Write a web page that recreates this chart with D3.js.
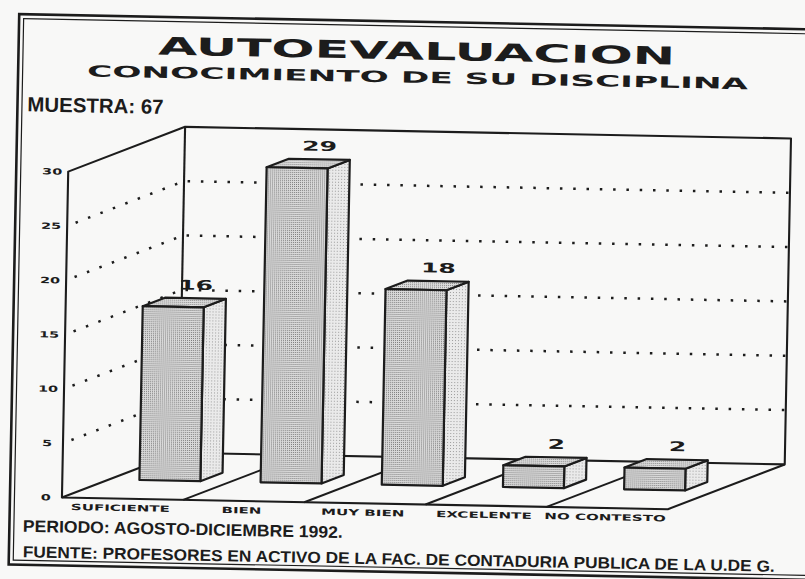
<!DOCTYPE html>
<html>
<head>
<meta charset="utf-8">
<script src="https://cdn.jsdelivr.net/npm/d3@7"></script>
<style>
  html, body { margin: 0; padding: 0; background: #f8f8f7; }
  svg { display: block; }
</style>
</head>
<body>
<svg id="chart" width="805" height="579"></svg>
<script>
// ---- data ----
const categories = ["SUFICIENTE", "BIEN", "MUY BIEN", "EXCELENTE", "NO CONTESTO"];
const values = [16, 29, 18, 2, 2];
const yTicks = [0, 5, 10, 15, 20, 25, 30];
const gridValues = [5, 10, 15, 20, 25];
const titleText = "AUTOEVALUACION";
const subtitleText = "CONOCIMIENTO DE SU DISCIPLINA";
const sampleText = "MUESTRA: 67";
const periodText = "PERIODO: AGOSTO-DICIEMBRE 1992.";
const sourceText = "FUENTE: PROFESORES EN ACTIVO DE LA FAC. DE CONTADURIA PUBLICA DE LA U.DE G.";

// ---- setup ----
const INK = "#1c1c1c";
const WIDE = "'DejaVu Sans', sans-serif";
const PLAIN = "'Liberation Sans', Arial, sans-serif";
const svg = d3.select("#chart");
const defs = svg.append("defs");

// halftone-like fills for the bar faces
function stipple(id, bg, dot, size) {
  const p = defs.append("pattern").attr("id", id)
    .attr("patternUnits", "userSpaceOnUse").attr("width", size).attr("height", size);
  p.append("rect").attr("width", size).attr("height", size).attr("fill", bg);
  p.append("rect").attr("width", 1).attr("height", 1).attr("fill", dot);
}
stipple("dotFront", "#dadada", "#7c7c7c", 2);
stipple("dotTop", "#dedede", "#848484", 2);
stipple("dotSide", "#eaeaea", "#9c9c9c", 3);

// the printed sheet sits a little askew
const page = svg.append("g").attr("transform", "rotate(1.1 400 290)");

// double frame
page.append("rect").attr("x", 14).attr("y", 21.5).attr("width", 820).attr("height", 550.5)
  .attr("fill", "none").attr("stroke", INK).attr("stroke-width", 2.6);
page.append("rect").attr("x", 18.5).attr("y", 26).attr("width", 810).attr("height", 541.5)
  .attr("fill", "none").attr("stroke", INK).attr("stroke-width", 1.2);

// ---- titles ----
page.append("text").attr("x", 153.5).attr("y", 59.3)
  .attr("font-family", WIDE).attr("font-weight", "bold").attr("font-size", 24.5)
  .attr("fill", INK).attr("textLength", 517).attr("lengthAdjust", "spacingAndGlyphs")
  .text(titleText);
page.append("text").attr("x", 83).attr("y", 82.5)
  .attr("font-family", WIDE).attr("font-weight", "bold").attr("font-size", 15.6)
  .attr("fill", INK).attr("textLength", 661).attr("lengthAdjust", "spacingAndGlyphs")
  .text(subtitleText);
page.append("text").attr("x", 24).attr("y", 118.5)
  .attr("font-family", PLAIN).attr("font-weight", "bold").attr("font-size", 20.5)
  .attr("fill", INK).attr("textLength", 136).attr("lengthAdjust", "spacingAndGlyphs")
  .text(sampleText);
page.append("text").attr("x", 27.5).attr("y", 539)
  .attr("font-family", PLAIN).attr("font-weight", "bold").attr("font-size", 16.8)
  .attr("fill", INK).attr("textLength", 320).attr("lengthAdjust", "spacingAndGlyphs")
  .text(periodText);
page.append("text").attr("x", 28).attr("y", 564.5)
  .attr("font-family", PLAIN).attr("font-weight", "bold").attr("font-size", 16)
  .attr("fill", INK).attr("textLength", 752).attr("lengthAdjust", "spacingAndGlyphs")
  .text(sourceText);

// ---- 3D chart geometry ----
const X0 = 66, X1 = 672, FLOOR = 504, TOP = 178;
const DEPTH_X = 116, DEPTH_Y = -47;
const BAR_T0 = 0.405, BAR_T1 = 0.595;

const x = d3.scaleBand().domain(categories).range([X0, X1])
  .paddingInner(0.497).paddingOuter(0.2485);
const y = d3.scaleLinear().domain([0, 30]).range([FLOOR, TOP]);
const zx = d3.scaleLinear().domain([0, 1]).range([0, DEPTH_X]);
const zy = d3.scaleLinear().domain([0, 1]).range([0, DEPTH_Y]);
const P = (px, v, t) => [px + zx(t), y(v) + zy(t)];
const line = d3.line();
const yMax = y.domain()[1];

const chart = page.append("g");

// dotted grid on the side and back walls
chart.append("g").selectAll("path").data(gridValues).join("path")
  .attr("d", v => line([P(X0, v, 0), P(X0, v, 1), P(X1, v, 1)]))
  .attr("fill", "none").attr("stroke", INK).attr("stroke-width", 2.5)
  .attr("stroke-dasharray", "2.5 10.8").attr("stroke-dashoffset", -9);

// floor dividers between categories
const step = x.step();
chart.append("g").selectAll("path").data(d3.range(1, categories.length)).join("path")
  .attr("d", i => line([P(X0 + i * step, 0, 0), P(X0 + i * step, 0, 1)]))
  .attr("fill", "none").attr("stroke", INK).attr("stroke-width", 2);

// wall and floor outlines
const walls = chart.append("g").attr("fill", "none").attr("stroke", INK)
  .attr("stroke-width", 2.1).attr("stroke-linejoin", "round");
walls.append("path").attr("d", line([
  P(X0, 0, 0), P(X0, yMax, 0), P(X0, yMax, 1), P(X1, yMax, 1),
  P(X1, 0, 1), P(X1, 0, 0)]) + "Z");
walls.append("path").attr("d", line([P(X0, 0, 0), P(X0, 0, 1), P(X1, 0, 1)]));
walls.append("path").attr("d", line([P(X0, 0, 1), P(X0, yMax, 1)]));

// value axis labels along the front edge
const axis = chart.append("g").attr("transform", `translate(${X0},0)`)
  .call(d3.axisLeft(y).tickValues(yTicks).tickSize(0).tickFormat(d3.format("d")));
axis.select(".domain").remove();
axis.selectAll("text")
  .attr("x", 0).attr("text-anchor", "middle")
  .attr("transform", "translate(-16,0) scale(1.7,1)")
  .attr("font-family", WIDE).attr("font-weight", "bold").attr("font-size", 8.5)
  .attr("fill", INK);

// category labels
chart.append("g").selectAll("text").data(categories).join("text")
  .attr("transform", d => `translate(${x(d) + x.bandwidth() / 2 - 2},516.3) scale(1.75,1)`)
  .attr("text-anchor", "middle")
  .attr("font-family", WIDE).attr("font-weight", "bold").attr("font-size", 8.6)
  .attr("fill", INK).text(d => d);

// bars
const bw = x.bandwidth();
const barData = categories.map((c, i) => ({ c, v: values[i] }));
const bars = chart.append("g").selectAll("g").data(barData)
  .join("g").attr("stroke", INK).attr("stroke-width", 2.2).attr("stroke-linejoin", "round");
bars.append("path").attr("fill", "url(#dotSide)")
  .attr("d", d => line([P(x(d.c) + bw, d.v, BAR_T0), P(x(d.c) + bw, 0, BAR_T0),
                        P(x(d.c) + bw, 0, BAR_T1), P(x(d.c) + bw, d.v, BAR_T1)]) + "Z");
bars.append("path").attr("fill", "url(#dotTop)")
  .attr("d", d => line([P(x(d.c), d.v, BAR_T0), P(x(d.c) + bw, d.v, BAR_T0),
                        P(x(d.c) + bw, d.v, BAR_T1), P(x(d.c), d.v, BAR_T1)]) + "Z");
bars.append("path").attr("fill", "url(#dotFront)")
  .attr("d", d => line([P(x(d.c), d.v, BAR_T0), P(x(d.c) + bw, d.v, BAR_T0),
                        P(x(d.c) + bw, 0, BAR_T0), P(x(d.c), 0, BAR_T0)]) + "Z");

// value labels above each bar
chart.append("g").selectAll("text").data(barData).join("text")
  .attr("transform", d => {
    const p = P(x(d.c) + bw / 2, d.v, BAR_T1);
    return `translate(${p[0]},${p[1] - 8.5}) scale(1.86,1)`;
  })
  .attr("text-anchor", "middle")
  .attr("font-family", WIDE).attr("font-weight", "bold").attr("font-size", 13.5)
  .attr("fill", INK).text(d => d.v);
</script>
</body>
</html>
